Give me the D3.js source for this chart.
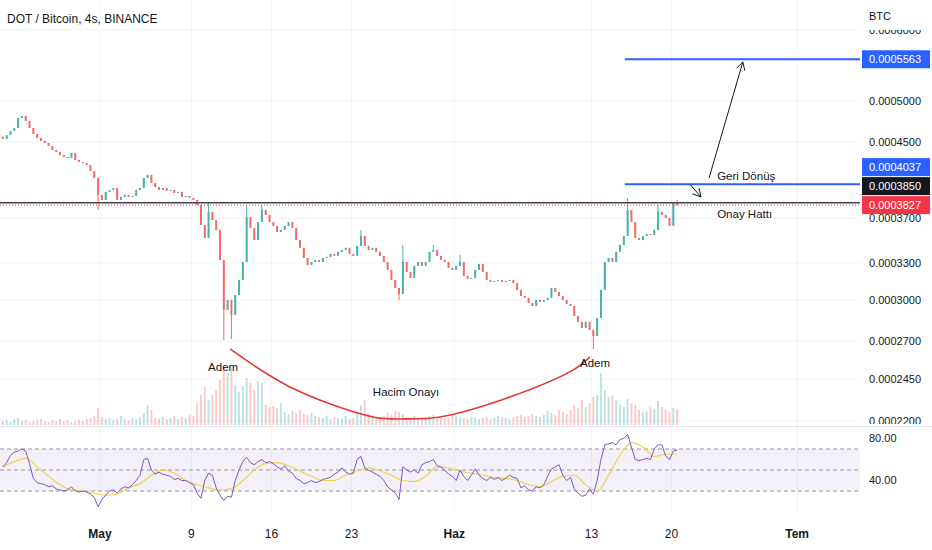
<!DOCTYPE html>
<html lang="tr">
<head>
  <meta charset="UTF-8">
  <title>DOT / Bitcoin, 4s, BINANCE</title>
  <script src="https://d3js.org/d3.v7.min.js"></script>
  <style>
    body { margin: 0; background: #fff; font-family: "Liberation Sans", Arial, sans-serif; }
    svg { display: block; }
    .tick-label { font-size: 11px; fill: #131722; }
    .note { font-size: 11.5px; fill: #131722; }
  </style>
</head>
<body>
  <svg id="chart" width="932" height="550"></svg>

  <script>
    const d = (m, day, h = 0) => new Date(Date.UTC(2022, m - 1, day, h));

    // prices are in units of 1e-7 BTC, one candle every 8 hours from 22 Apr 2022 08:00 UTC
    const firstOpen = 4560;
    const closes = [
      4535,4581,4629,4665,4785,4811,4749,4665,4593,4546,
      4512,4488,4454,4409,4386,4352,4330,4319,4375,4297,
      4275,4264,4242,4177,4103,3928,3878,3959,3979,3999,
      3878,3908,3928,3908,3918,3979,3999,4103,4135,4051,
      4010,3979,3999,3969,3979,3948,3959,3908,3918,3898,
      3878,3829,3637,3518,3761,3684,3591,3325,2925,3001,
      2888,3040,3159,3308,3713,3609,3500,3665,3780,3732,
      3665,3628,3573,3591,3628,3665,3609,3500,3430,3342,
      3283,3308,3325,3308,3342,3351,3377,3360,3395,3412,
      3430,3377,3360,3447,3536,3447,3412,3430,3395,3360,
      3308,3241,3159,3095,3048,3308,3225,3175,3275,3308,
      3275,3308,3395,3412,3360,3325,3308,3258,3241,3275,
      3308,3192,3167,3175,3241,3291,3225,3159,3143,3151,
      3159,3143,3151,3159,3135,3079,3032,3017,2978,2955,
      3001,2986,3001,3017,3095,3063,3032,3001,2970,2955,
      2881,2837,2793,2837,2779,2736,2866,3079,3308,3342,
      3308,3395,3456,3536,3780,3665,3518,3500,3536,3554,
      3545,3591,3761,3732,3703,3628,3850,3827
    ];
    // wicks that reach past the candle body (index: price)
    const wickHigh = { 54: 3848, 64: 3829, 68: 3829, 94: 3591, 105: 3456, 113: 3456, 120: 3368, 164: 3898, 172: 3829, 177: 3878 };
    const wickLow = { 25: 3780, 58: 2708, 60: 2715, 104: 3001, 155: 2645 };

    // volume, thousand DOT
    const volumes = [
      40,50,30,60,70,40,50,30,40,50,60,40,30,50,40,60,40,50,30,40,50,40,60,70,90,
      170,
      80,60,70,50,60,90,60,50,70,60,80,120,
      200,150,
      70,60,80,60,70,90,60,80,70,100,90,
      220,300,380,250,300,350,450,600,520,580,400,330,380,470,420,350,440,420,
      200,180,190,170,220,130,110,140,120,150,
      110,100,120,90,80,70,90,60,80,70,
      60,90,60,70,120,200,250,120,100,80,
      70,90,120,100,140,130,110,80,70,90,
      60,70,80,90,100,80,70,60,70,110,
      90,80,70,60,80,70,60,70,80,60,
      70,90,80,70,60,80,90,100,80,90,
      110,90,80,100,140,120,100,150,130,110,
      150,200,170,250,180,220,280,300,520,350,
      280,300,250,200,180,260,220,200,150,130,
      140,180,160,240,180,150,130,170,160
    ];

    const rsi = [
      53,57,64,67,68,70,68,56,42,38,
      37,36,34,35,32,31,30,31,34,30,
      29,30,29,27,24,15,22,26,30,31,
      28,32,34,33,36,40,45,60,61,50,
      46,48,46,45,44,41,42,40,40,38,
      36,28,23,40,47,45,33,26,21,25,
      24,40,50,58,62,57,55,58,60,57,
      58,56,53,51,54,49,47,42,40,37,
      38,40,38,39,41,42,43,46,48,52,
      48,46,47,60,63,52,50,48,46,44,
      40,34,31,28,22,53,50,48,50,47,
      55,57,58,60,54,53,50,46,44,40,
      50,44,40,45,51,45,42,40,43,41,
      43,40,42,45,43,42,33,35,31,30,
      34,33,36,44,51,53,55,45,40,43,
      32,28,25,26,32,27,40,60,74,75,
      76,74,79,80,84,72,60,59,60,61,
      60,70,74,74,63,60,68,69
    ];
    // RSI moving average, read once a day (every third candle)
    const rsiMa = [
      53,58,61,53,44,36,31,30,28,26,
      27,33,37,45,50,47,40,36,33,31,
      32,40,50,56,57,54,49,44,40,40,
      45,49,52,49,45,40,39,44,53,52,
      49,47,45,43,42,40,36,34,39,44,
      45,36,30,45,64,76,72,63,65,65
    ];

    const priceTicks = [6000, 5000, 4500, 3700, 3300, 3000, 2700, 2450, 2200];
    const dateTicks = [d(5,1), d(5,9), d(5,16), d(5,23), d(6,1), d(6,13), d(6,20), d(7,1)];
    const dateTickLabels = ["May", "9", "16", "23", "Haz", "13", "20", "Tem"];
    const monthLabels = ["May", "Haz", "Tem"];
    const rsiTicks = [80, 40];
    const rsiLevels = [70, 50, 30];

    const onayLevel = 3850;
    const lastPrice = 3827;
    const targetLevels = [4037, 5563];
    const targetStart = d(6,15,22);
    const priceMarks = [
      { v: 5563, color: "#2962ff" },
      { v: 4037, color: "#2962ff" },
      { v: 3850, color: "#131722" },
      { v: 3827, color: "#f23645" }
    ];
    const cupPoints = [
      [d(5,12,9), 2647], [d(5,17,15), 2401], [d(5,24,21), 2223], [d(5,27,18), 2212],
      [d(5,30,18), 2223], [d(6,5,15), 2334], [d(6,11,10), 2508], [d(6,12,21), 2593]
    ];
    const arrows = [
      [[d(6,23,7), 4103], [d(6,26,6), 5525]],
      [[d(6,21,15), 4037], [d(6,22,14), 3908]]
    ];
    const notes = [
      { text: "Geri Dönüş", t: d(6,24,0), p: 4082 },
      { text: "Onay Hattı", t: d(6,24,0), p: 3704 },
      { text: "Adem", t: d(5,10,11), p: 2502 },
      { text: "Adem", t: d(6,12,0), p: 2527 },
      { text: "Hacim Onayı", t: d(5,24,21), p: 2346 }
    ];

    const plotRight = 860, paneBottom = 426, rsiBottom = 512;
    const svg = d3.select("#chart");

    const x = d3.scaleUtc().domain([d(4,22,6), d(7,6,12)]).range([0, plotRight]);
    const y = d3.scaleLog().domain([2161, 6476]).range([428, 0]);
    const vy = d3.scaleLinear().domain([0, 600]).range([425, 365]);
    const ry = d3.scaleLinear().domain([30, 70]).range([491, 449]);
    const fmt = v => d3.format(".7f")(v * 1e-7);

    const t0 = +d(4,22,8), step = 8 * 3600e3;
    const candles = closes.map((c, i) => {
      const open = i ? closes[i - 1] : firstOpen;
      return {
        t: new Date(t0 + i * step + step / 2),
        open, close: c,
        high: Math.max(open, c, wickHigh[i] || 0),
        low: Math.min(open, c, wickLow[i] || Infinity),
        vol: volumes[i], rsi: rsi[i]
      };
    });

    svg.append("defs").append("clipPath").attr("id", "pane")
      .append("rect").attr("width", plotRight).attr("height", paneBottom);
    svg.select("defs").append("clipPath").attr("id", "axisClip")
      .append("rect").attr("x", plotRight).attr("y", 30).attr("width", 80).attr("height", 394);

    // grid
    svg.append("g").selectAll("line").data(dateTicks).join("line")
      .attr("x1", t => x(t)).attr("x2", t => x(t))
      .attr("y1", 0).attr("y2", rsiBottom)
      .attr("stroke", "#f0f3fa");
    svg.append("g").selectAll("line").data(priceTicks).join("line")
      .attr("x1", 0).attr("x2", plotRight)
      .attr("y1", v => y(v)).attr("y2", v => y(v))
      .attr("stroke", "#f0f3fa");

    const pane = svg.append("g").attr("clip-path", "url(#pane)");

    // volume
    pane.append("g").selectAll("rect").data(candles).join("rect")
      .attr("x", c => x(c.t) - 1).attr("width", 2)
      .attr("y", c => vy(c.vol)).attr("height", c => vy(0) - vy(c.vol))
      .attr("fill", c => c.close >= c.open ? "#26a69a" : "#ef5350")
      .attr("opacity", 0.3);

    // candles
    const cg = pane.append("g").attr("opacity", 0.85);
    cg.selectAll("line").data(candles).join("line")
      .attr("x1", c => x(c.t)).attr("x2", c => x(c.t))
      .attr("y1", c => y(c.high)).attr("y2", c => y(c.low))
      .attr("stroke", c => c.close >= c.open ? "#26a69a" : "#ef5350")
      .attr("stroke-width", 1);
    cg.selectAll("rect").data(candles).join("rect")
      .attr("x", c => x(c.t) - 1).attr("width", 2)
      .attr("y", c => y(Math.max(c.open, c.close)))
      .attr("height", c => Math.max(1, y(Math.min(c.open, c.close)) - y(Math.max(c.open, c.close))))
      .attr("fill", c => c.close >= c.open ? "#26a69a" : "#ef5350");

    // levels
    pane.append("line")
      .attr("x1", 0).attr("x2", plotRight)
      .attr("y1", y(onayLevel)).attr("y2", y(onayLevel))
      .attr("stroke", "#434651").attr("stroke-width", 1.6);
    pane.append("line")
      .attr("x1", 0).attr("x2", plotRight)
      .attr("y1", y(lastPrice)).attr("y2", y(lastPrice))
      .attr("stroke", "#f23645").attr("stroke-width", 1).attr("stroke-dasharray", "1,2");
    pane.append("g").selectAll("line").data(targetLevels).join("line")
      .attr("x1", x(targetStart)).attr("x2", plotRight)
      .attr("y1", v => y(v)).attr("y2", v => y(v))
      .attr("stroke", "#2962ff").attr("stroke-width", 2);

    // cup curve
    pane.append("path")
      .attr("d", d3.line().x(p => x(p[0])).y(p => y(p[1])).curve(d3.curveCatmullRom.alpha(0.5))(cupPoints))
      .attr("fill", "none").attr("stroke", "#e53935").attr("stroke-width", 1.6);

    // arrows
    arrows.forEach(([a, b]) => {
      const x0 = x(a[0]), y0 = y(a[1]), x1 = x(b[0]), y1 = y(b[1]);
      const ang = Math.atan2(y1 - y0, x1 - x0);
      const head = [ang + Math.PI * 0.84, ang - Math.PI * 0.84]
        .map(q => `M${x1 + 9 * Math.cos(q)},${y1 + 9 * Math.sin(q)}L${x1},${y1}`).join("");
      pane.append("path")
        .attr("d", `M${x0},${y0}L${x1},${y1}` + head)
        .attr("fill", "none").attr("stroke", "#131722").attr("stroke-width", 1);
    });

    pane.append("g").selectAll("text").data(notes).join("text")
      .attr("class", "note")
      .attr("x", n => x(n.t)).attr("y", n => y(n.p))
      .text(n => n.text);

    // pane separator
    svg.append("line").attr("x1", 0).attr("x2", 932)
      .attr("y1", paneBottom + 0.5).attr("y2", paneBottom + 0.5)
      .attr("stroke", "#e0e3eb");

    // RSI pane
    svg.append("rect")
      .attr("x", 0).attr("width", plotRight)
      .attr("y", ry(70)).attr("height", ry(30) - ry(70))
      .attr("fill", "#7e57c2").attr("opacity", 0.09);
    svg.append("g").selectAll("line").data(rsiLevels).join("line")
      .attr("x1", 0).attr("x2", plotRight)
      .attr("y1", v => ry(v)).attr("y2", v => ry(v))
      .attr("stroke", "#9598a1").attr("stroke-dasharray", "4,3");
    svg.append("path")
      .attr("d", d3.line().x((v, k) => x(candles[k * 3].t)).y(v => ry(v)).curve(d3.curveMonotoneX)(rsiMa))
      .attr("fill", "none").attr("stroke", "#f0d34f").attr("stroke-width", 1.2);
    svg.append("path")
      .attr("d", d3.line().x(c => x(c.t)).y(c => ry(c.rsi))(candles))
      .attr("fill", "none").attr("stroke", "#7e57c2").attr("stroke-width", 1);

    // price axis
    svg.append("g").attr("clip-path", "url(#axisClip)")
      .selectAll("text").data(priceTicks).join("text")
      .attr("class", "tick-label")
      .attr("x", 869).attr("y", v => y(v)).attr("dy", "0.35em")
      .text(fmt);
    svg.append("text").attr("class", "tick-label")
      .attr("x", 869).attr("y", 20).text("BTC");

    // stack the price marks upward so they don't overlap
    const marks = priceMarks.map(m => ({ ...m, pos: y(m.v) })).sort((a, b) => b.pos - a.pos);
    marks.forEach((m, k) => { if (k) m.pos = Math.min(m.pos, marks[k - 1].pos - 19); });
    const mg = svg.append("g").selectAll("g").data(marks).join("g");
    mg.append("rect")
      .attr("x", 862).attr("width", 68).attr("y", m => m.pos - 9).attr("height", 18)
      .attr("fill", m => m.color);
    mg.append("text")
      .attr("class", "tick-label").style("fill", "#fff")
      .attr("x", 869).attr("y", m => m.pos).attr("dy", "0.35em")
      .text(m => fmt(m.v));

    svg.append("g").selectAll("text").data(rsiTicks).join("text")
      .attr("class", "tick-label")
      .attr("x", 869).attr("y", v => ry(v)).attr("dy", "0.35em")
      .text(v => v.toFixed(2));

    // time axis
    svg.append("g").selectAll("text").data(dateTicks).join("text")
      .attr("class", "tick-label")
      .attr("x", t => x(t)).attr("y", 538).attr("text-anchor", "middle")
      .style("font-size", "12px")
      .style("font-weight", (t, k) => monthLabels.includes(dateTickLabels[k]) ? "bold" : "normal")
      .text((t, k) => dateTickLabels[k]);

    svg.append("text")
      .attr("x", 7).attr("y", 23)
      .style("font-size", "12px").style("fill", "#131722")
      .text("DOT / Bitcoin, 4s, BINANCE");
  </script>
</body>
</html>
